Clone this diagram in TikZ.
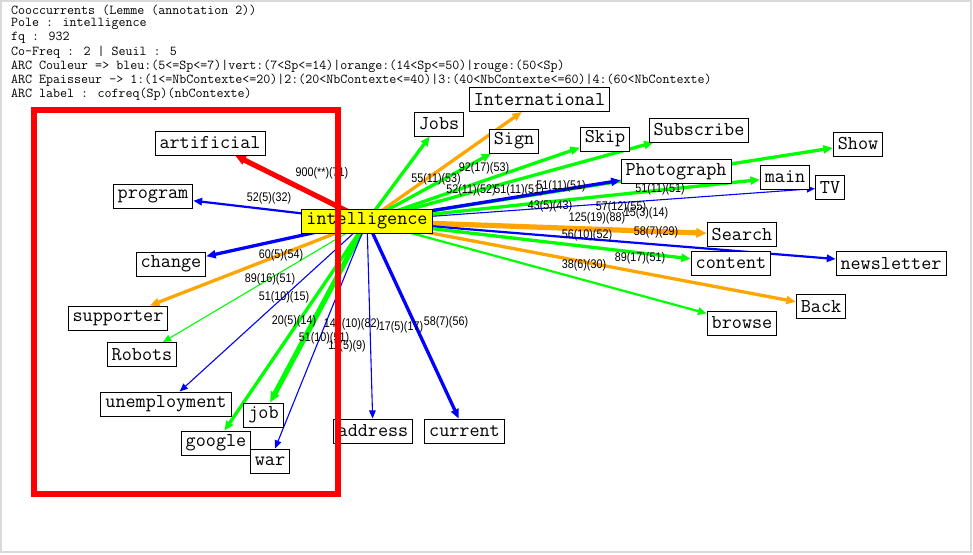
\documentclass[tikz,border=0pt]{standalone}
\usepackage{fontspec}
\newfontfamily\lblfont{Liberation Sans}[FakeStretch=0.86]
\usetikzlibrary{arrows.meta}
\definecolor{cgreen}{RGB}{0,255,0}
\definecolor{cblue}{RGB}{0,0,255}
\definecolor{corange}{RGB}{255,165,0}
\definecolor{cred}{RGB}{255,0,0}
\definecolor{cyel}{RGB}{255,255,0}
\pgfdeclarelayer{bg}
\pgfsetlayers{bg,main}
\tikzset{
  box/.style={draw=black, line width=0.9pt, fill=white, text=black,
    font=\fontsize{19.6}{22}\selectfont\ttfamily,
    inner xsep=4.5pt, inner ysep=0pt, minimum height=24pt},
  hdr/.style={anchor=west, inner sep=0pt, font=\fontsize{13.6}{15}\selectfont\ttfamily},
  lbl/.style={inner sep=0pt, font=\lblfont\fontsize{12.5}{12.5}\selectfont},
  arc/.style={-{Triangle[length=7.5pt 0.6, width=6pt 0.6]}},
  t1/.style={line width=1.1pt},
  t2/.style={line width=2.2pt},
  t3/.style={line width=3.3pt},
  t4/.style={line width=5.2pt}
}
\begin{document}
\begin{tikzpicture}[x=1pt,y=-1pt]
\useasboundingbox (0,0) rectangle (973,554);
\begin{pgfonlayer}{bg}
  \fill[white] (0,0) rectangle (973,554);
  \draw[black!15, line width=1.5pt] (1,1) rectangle (971,552);
\end{pgfonlayer}

% header
\node[hdr] (h1) at (11,10) {Cooccurrents (Lemme (annotation 2))};
\node[hdr] (h2) at (11,24) {Pole : intelligence};
\node[hdr] (h3) at (11,38) {fq : 932};
\node[hdr] (h4) at (11,52) {Co-Freq : 2 | Seuil : 5};
\node[hdr] (h5) at (11,66) {ARC Couleur => bleu:(5<=Sp<=7)|vert:(7<Sp<=14)|orange:(14<Sp<=50)|rouge:(50<Sp)};
\node[hdr] (h6) at (11,80) {ARC Epaisseur -> 1:(1<=NbContexte<=20)|2:(20<NbContexte<=40)|3:(40<NbContexte<=60)|4:(60<NbContexte)};
\node[hdr] (h7) at (11,94) {ARC label : cofreq(Sp)(nbContexte)};

% nodes
\node[box, fill=cyel] (intel) at (367,221) {intelligence};
\node[box] (international) at (539.5,99.5) {International};
\node[box] (jobs) at (439,124) {Jobs};
\node[box] (artificial) at (210,143) {artificial};
\node[box] (sign) at (514,141) {Sign};
\node[box] (skip) at (605,139) {Skip};
\node[box] (subscribe) at (699,130) {Subscribe};
\node[box] (show) at (858,144) {Show};
\node[box] (photograph) at (676,171.5) {Photograph};
\node[box] (mainn) at (785,177) {main};
\node[box] (tv) at (830,187.5) {TV};
\node[box] (program) at (153,196) {program};
\node[box] (search) at (742,234.5) {Search};
\node[box] (change) at (171,264) {change};
\node[box] (content) at (731,263.5) {content};
\node[box] (newsletter) at (891,263.5) {newsletter};
\node[box] (back) at (821,306.5) {Back};
\node[box] (supporter) at (118,318) {supporter};
\node[box] (browse) at (742,323) {browse};
\node[box] (robots) at (142,354.5) {Robots};
\node[box] (unemployment) at (166,404) {unemployment};
\node[box] (job) at (263.5,415) {job};
\node[box] (address) at (373,431) {address};
\node[box] (current) at (464.5,431) {current};
\node[box] (google) at (216,443) {google};
\node[box] (war) at (270,461) {war};

% edges
\begin{pgfonlayer}{bg}
  \draw[arc, t4, cred] (intel.center) -- (artificial);
  \draw[arc, t2, cblue] (intel.center) -- (program);
  \draw[arc, t3, cblue] (intel.center) -- (change);
  \draw[arc, t3, corange] (intel.center) -- (supporter);
  \draw[arc, t1, cgreen] (intel.center) -- (robots);
  \draw[arc, t1, cblue] (intel.center) -- (unemployment);
  \draw[arc, t4, cgreen] (intel.center) -- (job);
  \draw[arc, t3, cgreen] (intel.center) -- (google);
  \draw[arc, t1, cblue] (intel.center) -- (war);
  \draw[arc, t1, cblue] (intel.center) -- (address);
  \draw[arc, t3, cblue] (intel.center) -- (current);
  \draw[arc, t3, cgreen] (intel.center) -- (jobs);
  \draw[arc, t3, corange] (intel.center) -- (international);
  \draw[arc, t3, cgreen] (intel.center) -- (sign);
  \draw[arc, t3, cgreen] (intel.center) -- (skip);
  \draw[arc, t3, cgreen] (intel.center) -- (subscribe);
  \draw[arc, t3, cgreen] (intel.center) -- (show);
  \draw[arc, t3, cblue] (intel.center) -- (photograph);
  \draw[arc, t3, cgreen] (intel.center) -- (mainn);
  \draw[arc, t1, cblue] (intel.center) -- (tv);
  \draw[arc, t4, corange] (intel.center) -- (search);
  \draw[arc, t2, cblue] (intel.center) -- (newsletter);
  \draw[arc, t3, cgreen] (intel.center) -- (content);
  \draw[arc, t3, corange] (intel.center) -- (back);
  \draw[arc, t2, cgreen] (intel.center) -- (browse);
\end{pgfonlayer}

% edge labels
\node[lbl] (l1) at (322,173) {900(**)(71)};
\node[lbl] (l2) at (269,198) {52(5)(32)};
\node[lbl] (l3) at (436,179) {55(11)(53)};
\node[lbl] (l4) at (484,168) {92(17)(53)};
\node[lbl] (l5) at (471,190) {52(11)(52)};
\node[lbl] (l6) at (519,190) {51(11)(51)};
\node[lbl] (l7) at (561,186) {51(11)(51)};
\node[lbl] (l8) at (550,206) {43(5)(43)};
\node[lbl] (l9) at (621,207) {57(12)(55)};
\node[lbl] (l10) at (646,213) {15(3)(14)};
\node[lbl] (l11) at (597,218) {125(19)(88)};
\node[lbl] (l12) at (656,232) {58(7)(29)};
\node[lbl] (l13) at (587,235) {56(10)(52)};
\node[lbl] (l14) at (660,189) {51(11)(51)};
\node[lbl] (l15) at (640,258) {89(17)(51)};
\node[lbl] (l16) at (584,265) {38(6)(30)};
\node[lbl] (l17) at (446,322) {58(7)(56)};
\node[lbl] (l18) at (281,255) {60(5)(54)};
\node[lbl] (l19) at (270,279) {89(16)(51)};
\node[lbl] (l20) at (284,297) {51(10)(15)};
\node[lbl] (l21) at (294,321) {20(5)(14)};
\node[lbl] (l22) at (352,324) {147(10)(82)};
\node[lbl] (l23) at (401,327) {17(5)(17)};
\node[lbl] (l24) at (324,338) {51(10)(51)};
\node[lbl] (l25) at (347,346) {11(5)(9)};

% red frame
\draw[cred, line width=6pt] (34,109.5) rectangle (337.5,493.7);
\end{tikzpicture}
\end{document}
